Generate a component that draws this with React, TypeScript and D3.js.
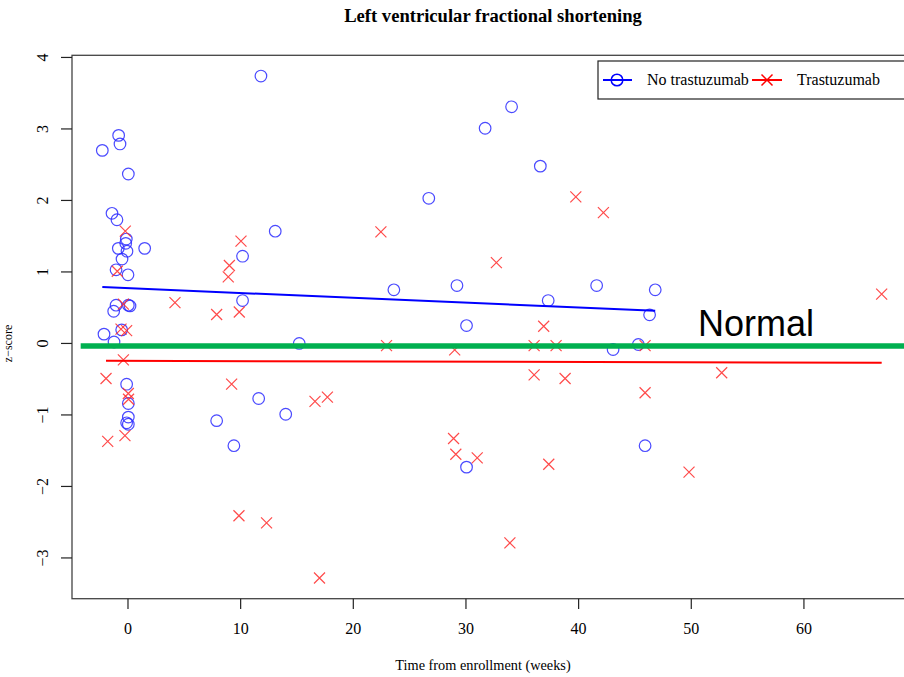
import React from "react";
import * as d3 from "d3";

const noTrastuzumab: [number, number][] = [
  [-2.28, 2.70], [-0.83, 2.91], [-0.71, 2.79], [0.03, 2.37], [-1.42, 1.82], [-0.98, 1.73],
  [-0.15, 1.46], [-0.2, 1.40], [-0.86, 1.33], [-0.09, 1.29], [1.48, 1.33], [-0.53, 1.18],
  [-1.06, 1.03], [0.0, 0.96], [-1.06, 0.535], [-1.27, 0.45], [0.03, 0.535], [0.18, 0.525],
  [-0.56, 0.19], [-2.13, 0.13], [-1.24, 0.02], [-0.12, -0.57], [0.03, -0.84], [0.03, -1.03],
  [-0.12, -1.11], [0.03, -1.13], [7.87, -1.08], [9.4, -1.43], [11.6, -0.77], [14.0, -0.99],
  [10.17, 1.22], [10.17, 0.6], [11.8, 3.74], [13.07, 1.57], [15.2, 0.0], [23.6, 0.75],
  [26.7, 2.03], [29.2, 0.81], [30.05, 0.25], [30.05, -1.73], [31.7, 3.01], [34.05, 3.31],
  [36.6, 2.48], [37.3, 0.6], [41.6, 0.81], [43.06, -0.085], [45.3, -0.015], [45.9, -1.43],
  [46.3, 0.40], [46.8, 0.75],
];

const trastuzumab: [number, number][] = [
  [-0.24, 1.57], [-0.95, 1.01], [-0.41, 0.55], [-0.62, 0.2], [-0.12, 0.18], [-0.41, -0.23],
  [-1.95, -0.49], [0.03, -0.70], [0.05, -0.78], [-1.8, -1.37], [-0.27, -1.29], [4.17, 0.57],
  [7.87, 0.405], [9.88, 0.44], [8.9, 0.93], [9.0, 1.09], [10.03, 1.43], [9.2, -0.57],
  [9.85, -2.41], [12.3, -2.51], [17.0, -3.28], [16.6, -0.81], [17.7, -0.75], [22.45, 1.56],
  [22.95, -0.03], [29.0, -0.09], [28.9, -1.33], [29.1, -1.55], [31.0, -1.6], [32.7, 1.13],
  [33.9, -2.79], [36.05, -0.03], [36.05, -0.44], [36.9, 0.24], [38.0, -0.03], [38.8, -0.49],
  [37.35, -1.69], [39.75, 2.05], [42.2, 1.83], [45.9, -0.03], [45.9, -0.69], [49.8, -1.80],
  [52.7, -0.41], [66.9, 0.69],
];

// fitted regression lines (intercept, slope)
const blueFit = { intercept: 0.774, slope: -0.0068 };
const redFit = { intercept: -0.244, slope: -0.00039 };

const xTicks = [0, 10, 20, 30, 40, 50, 60];
const yTicks = [-3, -2, -1, 0, 1, 2, 3, 4];
const normalLevel = -0.035;

const W = 904;
const H = 677;
const serif = "'Liberation Serif', 'Times New Roman', serif";

export default function App() {
  React.useEffect(() => {
    document.body.style.margin = "0";
  }, []);

  const x = d3.scaleLinear().domain([-4.97, 69.77]).range([72, 914]);
  const y = d3.scaleLinear().domain([-3.57, 4.03]).range([598.7, 55.3]);

  const fitLine = (data: [number, number][], fit: { intercept: number; slope: number }) => {
    const ext = d3.extent(data, (d) => d[0]) as [number, number];
    const pts = ext.map((v) => [x(v), y(fit.intercept + fit.slope * v)] as [number, number]);
    return d3.line()(pts) || "";
  };

  const cross = (cx: number, cy: number, s: number) =>
    `M${cx - s},${cy - s}L${cx + s},${cy + s}M${cx - s},${cy + s}L${cx + s},${cy - s}`;

  const blue = "#2a2aff";
  const red = "#ff2a2a";

  return (
    <svg width={W} height={H} style={{ display: "block", background: "#fff" }}>
      <text x={493} y={22} textAnchor="middle" fontFamily={serif} fontWeight="bold" fontSize={18.6}>
        Left ventricular fractional shortening
      </text>

      {/* frame */}
      <rect x={x.range()[0]} y={y.range()[1]} width={x.range()[1] - x.range()[0]} height={y.range()[0] - y.range()[1]}
        fill="none" stroke="#444" strokeWidth={1.3} />

      {/* x axis */}
      {xTicks.map((t) => (
        <g key={"x" + t}>
          <line x1={x(t)} x2={x(t)} y1={598.7} y2={609} stroke="#222" strokeWidth={1.2} />
          <text x={x(t)} y={634} textAnchor="middle" fontFamily={serif} fontSize={16}>{t}</text>
        </g>
      ))}
      <text x={483} y={670} textAnchor="middle" fontFamily={serif} fontSize={14.3}>
        Time from enrollment (weeks)
      </text>

      {/* y axis */}
      {yTicks.map((t) => (
        <g key={"y" + t}>
          <line x1={61} x2={72} y1={y(t)} y2={y(t)} stroke="#222" strokeWidth={1.2} />
          <text transform={`translate(48,${y(t)}) rotate(-90)`} textAnchor="middle" fontFamily={serif} fontSize={16}>
            {t < 0 ? "\u2212" + Math.abs(t) : String(t)}
          </text>
        </g>
      ))}
      <text transform={`translate(12,${y(0)}) rotate(-90)`} textAnchor="middle" fontFamily={serif} fontSize={12}>
        z{"\u2212"}score
      </text>

      {/* points */}
      {noTrastuzumab.map((d, i) => (
        <circle key={"b" + i} cx={x(d[0])} cy={y(d[1])} r={5.8} fill="none" stroke={blue} strokeWidth={1.2} opacity={0.85} />
      ))}
      {trastuzumab.map((d, i) => (
        <path key={"r" + i} d={cross(x(d[0]), y(d[1]), 5.5)} fill="none" stroke={red} strokeWidth={1.2} opacity={0.85} />
      ))}

      {/* regression lines */}
      <path d={fitLine(noTrastuzumab, blueFit)} stroke="#0000ff" strokeWidth={2} fill="none" />
      <path d={fitLine(trastuzumab, redFit)} stroke="#ff0000" strokeWidth={2} fill="none" />

      {/* normal reference */}
      <line x1={x(-4.2)} x2={W} y1={y(normalLevel)} y2={y(normalLevel)} stroke="#00b050" strokeWidth={5.5} />
      <text x={698} y={336} fontFamily="'Liberation Sans', Arial, sans-serif" fontSize={36} fill="#000">Normal</text>

      {/* legend */}
      <rect x={598} y={61} width={330} height={38} fill="#fff" stroke="#222" strokeWidth={1.2} />
      <line x1={603} x2={632} y1={80} y2={80} stroke="#0000ff" strokeWidth={2} />
      <circle cx={617} cy={80} r={5.8} fill="none" stroke="#0000ff" strokeWidth={1.5} />
      <text x={647} y={85} fontFamily={serif} fontSize={16}>No trastuzumab</text>
      <line x1={752} x2={782} y1={80} y2={80} stroke="#ff0000" strokeWidth={2} />
      <path d={cross(767, 80, 5.5)} stroke="#ff0000" strokeWidth={1.5} fill="none" />
      <text x={797} y={85} fontFamily={serif} fontSize={16}>Trastuzumab</text>
    </svg>
  );
}
